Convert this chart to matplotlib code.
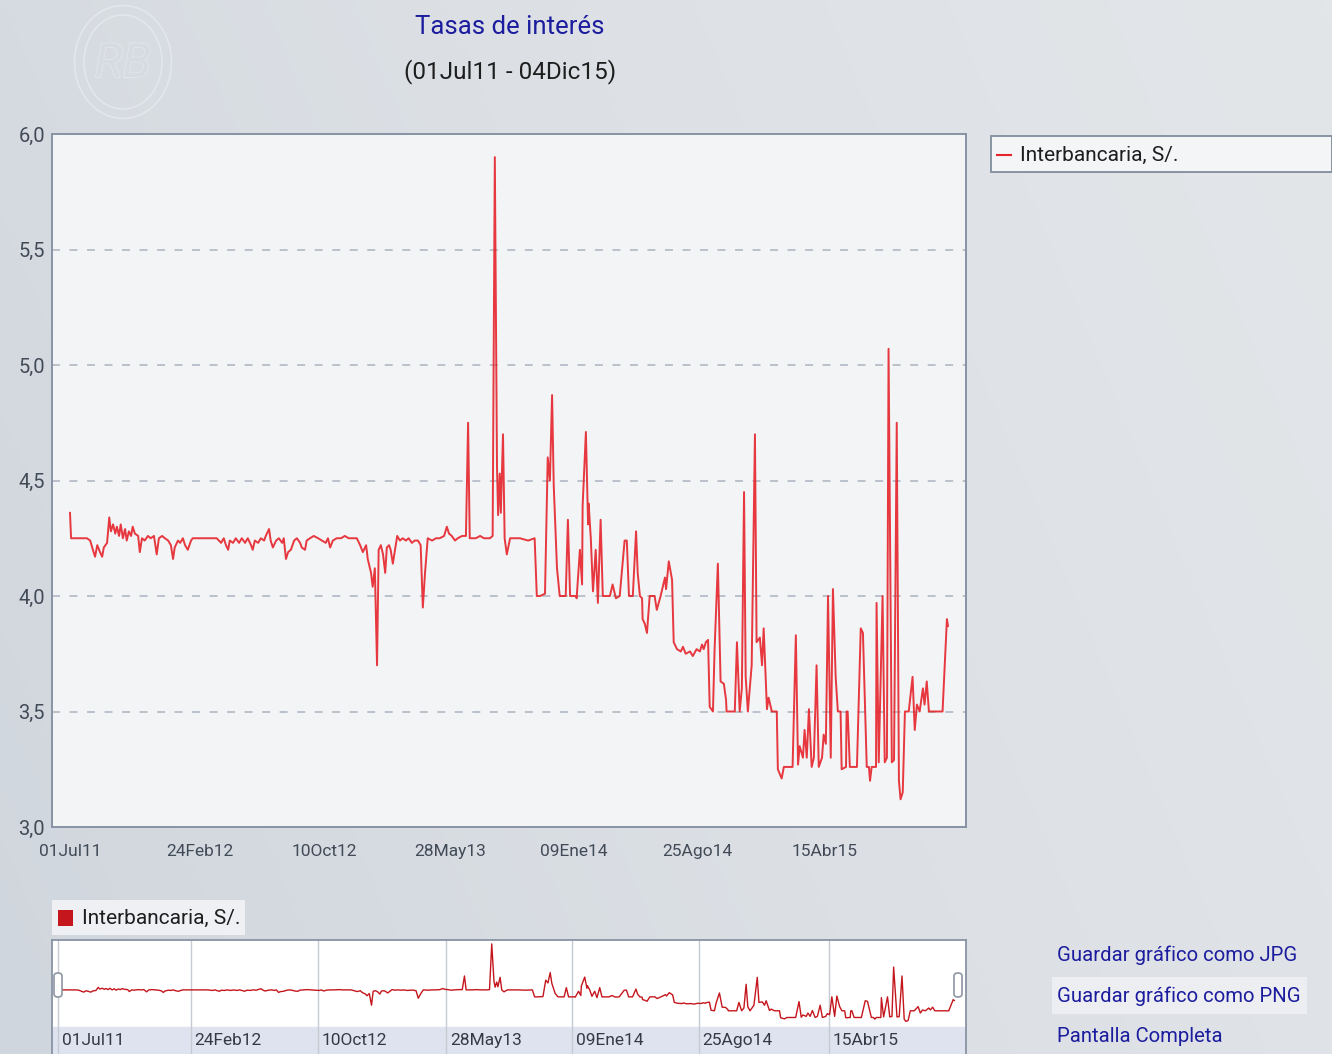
import matplotlib.pyplot as plt
import numpy as np
import pandas as pd
from matplotlib import font_manager, patheffects
from matplotlib.colors import LinearSegmentedColormap
from matplotlib.lines import Line2D
from matplotlib.patches import Ellipse, FancyBboxPatch, Rectangle

W, H = 1332, 1054

# ---------------------------------------------------------------------------
# Datos: tasa interbancaria en soles (% anual)
# ---------------------------------------------------------------------------
fechas_2011 = ["2011-07-01", "2011-07-03", "2011-08-01", "2011-08-07", "2011-08-12", "2011-08-16",
               "2011-08-20", "2011-08-25", "2011-08-29", "2011-09-01", "2011-09-07", "2011-09-11",
               "2011-09-14", "2011-09-18", "2011-09-22", "2011-09-25", "2011-09-29", "2011-10-02",
               "2011-10-06", "2011-10-10", "2011-10-13", "2011-10-17", "2011-10-21", "2011-10-24",
               "2011-10-28", "2011-11-03", "2011-11-06", "2011-11-10", "2011-11-15", "2011-11-21",
               "2011-11-26", "2011-12-02", "2011-12-07", "2011-12-11", "2011-12-17", "2011-12-22",
               "2011-12-28"]
tasas_2011 = [4.36, 4.25, 4.25, 4.24, 4.20, 4.17,
              4.22, 4.19, 4.17, 4.21, 4.23, 4.34,
              4.28, 4.31, 4.27, 4.30, 4.26, 4.31,
              4.25, 4.29, 4.24, 4.28, 4.26, 4.30,
              4.27, 4.26, 4.19, 4.25, 4.24, 4.26,
              4.25, 4.26, 4.18, 4.25, 4.26, 4.25,
              4.24]

fechas_2012 = ["2012-01-02", "2012-01-06", "2012-01-09", "2012-01-15", "2012-01-19", "2012-01-24",
               "2012-01-28", "2012-02-02", "2012-02-08", "2012-02-11", "2012-03-26", "2012-03-30",
               "2012-04-03", "2012-04-08", "2012-04-12", "2012-04-16", "2012-04-19", "2012-04-25",
               "2012-04-30", "2012-05-06", "2012-05-11", "2012-05-17", "2012-05-22", "2012-05-28",
               "2012-05-31", "2012-06-04", "2012-06-10", "2012-06-15", "2012-06-21", "2012-06-24",
               "2012-06-30", "2012-07-03", "2012-07-07", "2012-07-13", "2012-07-18", "2012-07-24",
               "2012-07-27", "2012-07-31", "2012-08-04", "2012-08-09", "2012-08-15", "2012-08-20",
               "2012-08-26", "2012-08-29", "2012-09-04", "2012-09-07", "2012-09-13", "2012-09-20",
               "2012-09-28", "2012-10-05", "2012-10-12", "2012-10-16", "2012-10-20", "2012-10-25",
               "2012-11-01", "2012-11-09", "2012-11-16", "2012-11-23", "2012-12-01", "2012-12-08",
               "2012-12-14", "2012-12-19", "2012-12-25", "2012-12-28"]
tasas_2012 = [4.22, 4.16, 4.21, 4.24, 4.23, 4.25,
              4.22, 4.20, 4.24, 4.25, 4.25, 4.24,
              4.23, 4.25, 4.22, 4.20, 4.24, 4.23,
              4.25, 4.23, 4.25, 4.23, 4.25, 4.22,
              4.20, 4.24, 4.23, 4.25, 4.24, 4.26,
              4.29, 4.24, 4.21, 4.24, 4.25, 4.23,
              4.25, 4.16, 4.19, 4.20, 4.24, 4.25,
              4.23, 4.21, 4.20, 4.24, 4.25, 4.26,
              4.25, 4.24, 4.23, 4.25, 4.21, 4.24,
              4.25, 4.25, 4.26, 4.25, 4.25, 4.25,
              4.22, 4.19, 4.22, 4.16]

fechas_2013 = ["2013-01-03", "2013-01-06", "2013-01-10", "2013-01-14", "2013-01-17", "2013-01-21",
               "2013-01-25", "2013-01-29", "2013-02-01", "2013-02-05", "2013-02-08", "2013-02-12",
               "2013-02-16", "2013-02-20", "2013-02-25", "2013-03-02", "2013-03-08", "2013-03-13",
               "2013-03-19", "2013-03-24", "2013-03-30", "2013-04-04", "2013-04-08", "2013-04-12",
               "2013-04-17", "2013-04-25", "2013-05-02", "2013-05-09", "2013-05-17", "2013-05-22",
               "2013-05-26", "2013-05-31", "2013-06-06", "2013-06-11", "2013-06-19", "2013-06-26",
               "2013-06-30", "2013-07-03", "2013-07-14", "2013-07-22", "2013-07-29", "2013-08-09",
               "2013-08-14", "2013-08-18", "2013-08-22", "2013-08-24", "2013-08-27", "2013-08-29",
               "2013-09-02", "2013-09-05", "2013-09-09", "2013-09-15", "2013-10-03", "2013-10-18",
               "2013-10-30", "2013-11-03", "2013-11-09", "2013-11-18", "2013-11-23", "2013-11-27",
               "2013-12-01", "2013-12-04", "2013-12-10", "2013-12-15", "2013-12-26", "2013-12-30"]
tasas_2013 = [4.10, 4.04, 4.12, 3.70, 4.20, 4.22,
              4.18, 4.10, 4.21, 4.22, 4.20, 4.14,
              4.20, 4.26, 4.24, 4.25, 4.24, 4.25,
              4.23, 4.24, 4.24, 4.22, 3.95, 4.10,
              4.25, 4.24, 4.25, 4.25, 4.26, 4.30,
              4.27, 4.26, 4.24, 4.25, 4.26, 4.26,
              4.75, 4.25, 4.25, 4.26, 4.25, 4.25,
              4.26, 5.90, 4.56, 4.35, 4.53, 4.36,
              4.70, 4.25, 4.18, 4.25, 4.25, 4.24,
              4.25, 4.00, 4.00, 4.01, 4.60, 4.50,
              4.87, 4.48, 4.12, 4.00, 4.00, 4.33]

fechas_2014 = ["2014-01-03", "2014-01-14", "2014-01-15", "2014-01-21", "2014-01-25", "2014-01-26",
               "2014-02-01", "2014-02-05", "2014-02-06", "2014-02-10", "2014-02-14", "2014-02-19",
               "2014-02-23", "2014-02-28", "2014-03-04", "2014-03-17", "2014-03-22", "2014-03-28",
               "2014-04-04", "2014-04-13", "2014-04-17", "2014-04-21", "2014-04-28", "2014-05-04",
               "2014-05-07", "2014-05-11", "2014-05-15", "2014-05-16", "2014-05-20", "2014-05-24",
               "2014-05-29", "2014-06-07", "2014-06-11", "2014-06-18", "2014-06-26", "2014-06-28",
               "2014-07-03", "2014-07-09", "2014-07-12", "2014-07-18", "2014-07-25", "2014-07-29",
               "2014-08-03", "2014-08-11", "2014-08-16", "2014-08-23", "2014-08-29", "2014-09-02",
               "2014-09-05", "2014-09-09", "2014-09-13", "2014-09-16", "2014-09-22", "2014-09-25",
               "2014-10-01", "2014-10-06", "2014-10-12", "2014-10-16", "2014-10-17", "2014-11-01",
               "2014-11-05", "2014-11-10", "2014-11-14", "2014-11-18", "2014-11-21", "2014-11-25",
               "2014-12-02", "2014-12-08", "2014-12-11", "2014-12-17", "2014-12-21", "2014-12-24",
               "2014-12-30"]
tasas_2014 = [4.00, 4.00, 3.99, 4.20, 4.05, 4.39,
              4.71, 4.31, 4.40, 4.25, 4.02, 4.20,
              3.97, 4.33, 4.00, 4.00, 4.05, 3.99,
              4.00, 4.24, 4.24, 4.00, 4.00, 4.28,
              4.10, 4.00, 3.99, 3.90, 3.88, 3.84,
              4.00, 4.00, 3.94, 4.00, 4.08, 4.03,
              4.15, 4.07, 3.80, 3.77, 3.76, 3.78,
              3.75, 3.76, 3.74, 3.77, 3.76, 3.79,
              3.77, 3.80, 3.81, 3.52, 3.50, 3.77,
              4.14, 3.63, 3.62, 3.55, 3.50, 3.50,
              3.80, 3.50, 3.60, 4.45, 3.65, 3.50,
              3.70, 4.70, 3.80, 3.82, 3.70, 3.86,
              3.51]

fechas_2015 = ["2015-01-02", "2015-01-08", "2015-01-17", "2015-01-19", "2015-01-26", "2015-01-30",
               "2015-02-15", "2015-02-21", "2015-02-25", "2015-02-28", "2015-03-06", "2015-03-09",
               "2015-03-13", "2015-03-17", "2015-03-22", "2015-03-26", "2015-03-31", "2015-04-04",
               "2015-04-10", "2015-04-13", "2015-04-17", "2015-04-21", "2015-04-26", "2015-04-30",
               "2015-05-05", "2015-05-09", "2015-05-14", "2015-05-16", "2015-05-24", "2015-05-25",
               "2015-05-27", "2015-05-31", "2015-06-13", "2015-06-20", "2015-06-24", "2015-07-01",
               "2015-07-05", "2015-07-07", "2015-07-10", "2015-07-18", "2015-07-19", "2015-07-23",
               "2015-07-30", "2015-08-03", "2015-08-07", "2015-08-10", "2015-08-16", "2015-08-20",
               "2015-08-25", "2015-08-29", "2015-09-01", "2015-09-05", "2015-09-09", "2015-09-16",
               "2015-09-23", "2015-09-27", "2015-10-01", "2015-10-06", "2015-10-12", "2015-10-15",
               "2015-10-19", "2015-10-23", "2015-11-17", "2015-11-25", "2015-11-27"]
tasas_2015 = [3.56, 3.50, 3.50, 3.25, 3.21, 3.26,
              3.26, 3.83, 3.27, 3.35, 3.30, 3.42,
              3.30, 3.51, 3.26, 3.30, 3.70, 3.26,
              3.30, 3.40, 3.36, 4.00, 3.30, 4.03,
              3.65, 3.50, 3.50, 3.25, 3.26, 3.50,
              3.50, 3.26, 3.26, 3.86, 3.84, 3.26,
              3.26, 3.20, 3.26, 3.26, 3.97, 3.28,
              4.00, 3.28, 3.30, 5.07, 3.28, 3.29,
              4.75, 3.20, 3.12, 3.15, 3.50, 3.50,
              3.65, 3.42, 3.53, 3.50, 3.60, 3.53,
              3.63, 3.50, 3.50, 3.90, 3.87]

tick_fechas = ["2011-07-01", "2012-02-24", "2012-10-10", "2013-05-28",
               "2014-01-09", "2014-08-25", "2015-04-15"]
tick_etiquetas = ["01Jul11", "24Feb12", "10Oct12", "28May13", "09Ene14", "25Ago14", "15Abr15"]
y_ticks = [3.0, 3.5, 4.0, 4.5, 5.0, 5.5, 6.0]

serie = "Interbancaria, S/."
titulo = "Tasas de interés"
periodo = "(01Jul11 - 04Dic15)"
enlaces = ["Guardar gráfico como JPG", "Guardar gráfico como PNG", "Pantalla Completa"]

fechas = pd.to_datetime(fechas_2011 + fechas_2012 + fechas_2013 + fechas_2014 + fechas_2015)
tasas = tasas_2011 + tasas_2012 + tasas_2013 + tasas_2014 + tasas_2015
ticks = pd.to_datetime(tick_fechas)
inicio = ticks[0]

# fuente estrecha parecida a la del original, si esta instalada
disponibles = {f.name for f in font_manager.fontManager.ttflist}
fuente = next((f for f in ["Liberation Sans Narrow", "DejaVu Sans Condensed", "Roboto", "DejaVu Sans"]
               if f in disponibles), "DejaVu Sans")
plt.rcParams["font.family"] = fuente


def caja(x0, y0, x1, y1):
    # rectangulo en pixeles (origen arriba a la izquierda) -> fraccion de figura
    return [x0 / W, 1 - y1 / H, (x1 - x0) / W, (y1 - y0) / H]


def fx(x):
    return x / W


def fy(y):
    return 1 - y / H


fig = plt.figure(figsize=(W / 100, H / 100), dpi=100)

# fondo degradado
fondo = fig.add_axes([0, 0, 1, 1], zorder=-10)
gx, gy = np.meshgrid(np.linspace(0, 1, 300), np.linspace(0, 1, 200))
cmap_fondo = LinearSegmentedColormap.from_list("fondo", ["#d0d6dd", "#dce0e5", "#e3e6e9"])
fondo.imshow(0.75 * gx + 0.25 * gy, cmap=cmap_fondo, aspect="auto", extent=[0, 1, 0, 1], origin="lower")
fondo.axis("off")

# logo tenue
for rx, ry in [(97, 113), (78, 94)]:
    fondo.add_patch(Ellipse((fx(123), fy(62)), rx / W, ry / H, fill=False,
                            edgecolor="#e3e7eb", lw=1.2, transform=fig.transFigure))
fig.text(fx(123), fy(64), "RB", ha="center", va="center", fontsize=34, style="italic",
         color="#d6dbe1", path_effects=[patheffects.withStroke(linewidth=1.2, foreground="#e3e7eb")])

# titulos
fig.text(fx(510), fy(27), titulo, ha="center", va="center", fontsize=18.5, color="#1c1c9e")
fig.text(fx(510), fy(72), periodo, ha="center", va="center", fontsize=17.5, color="#1e1e1e")

# grafico principal
ax = fig.add_axes(caja(52, 134, 966, 827))
ax.set_facecolor("#f2f4f6")
for v in y_ticks[1:-1]:
    ax.axhline(v, color="#b6bdc7", lw=1.3, ls=(0, (4.4, 5.3)), zorder=0)
ax.plot(fechas, tasas, color="#e5232a", lw=1.4, alpha=0.9, zorder=2)
ax.set_ylim(3, 6)
ax.set_xlim(inicio - pd.Timedelta(days=33), inicio + pd.Timedelta(days=1643))
ax.set_yticks(y_ticks)
ax.set_yticklabels([f"{v:.1f}".replace(".", ",") for v in y_ticks])
ax.set_xticks(ticks)
ax.set_xticklabels(tick_etiquetas)
ax.tick_params(length=0, labelcolor="#414a57")
ax.tick_params(axis="y", pad=5, labelsize=14.5)
ax.tick_params(axis="x", pad=12, labelsize=12.5)
for s in ax.spines.values():
    s.set_color("#8793a3")
    s.set_linewidth(1.4)

# leyenda derecha
fig.patches.append(Rectangle((fx(991), fy(172)), (W - 991) / W, 36 / H, transform=fig.transFigure,
                             facecolor="#f4f5f7", edgecolor="#8893a3", lw=1.4))
fig.lines.append(Line2D([fx(997), fx(1011)], [fy(155), fy(155)], transform=fig.transFigure,
                        color="#e5232a", lw=1.5))
fig.text(fx(1020), fy(155), serie, ha="left", va="center", fontsize=15, color="#1e1e1e")

# etiqueta del navegador
fig.patches.append(Rectangle((fx(52), fy(935)), 193 / W, 35 / H, transform=fig.transFigure,
                             facecolor="#eef0f3", edgecolor="none"))
fig.patches.append(Rectangle((fx(58), fy(926)), 15 / W, 16 / H, transform=fig.transFigure,
                             facecolor="#c4161c", edgecolor="none"))
fig.text(fx(82), fy(918), serie, ha="left", va="center", fontsize=15, color="#1e1e1e")

# navegador inferior
nav = fig.add_axes(caja(52, 940, 966, 1054))
nav.set_facecolor("white")
nav.set_xlim(inicio - pd.Timedelta(days=11), inicio + pd.Timedelta(days=1631))
nav.set_ylim(1.95, 6.04)
nav.axhspan(1.95, 2.92, color="#dfe3ef", zorder=0)
for t in ticks:
    nav.axvline(t, color="#c6cbd3", lw=1, zorder=1)
nav.plot(fechas, tasas, color="#c4161c", lw=1.0, zorder=2)
for t, lab in zip(ticks, tick_etiquetas):
    nav.text(t + pd.Timedelta(days=7), 2.42, lab, ha="left", va="center", fontsize=12.5, color="#333a46")
nav.set_xticks([])
nav.set_yticks([])
for s in nav.spines.values():
    s.set_color("#8893a3")
    s.set_linewidth(1.3)
nav.spines["bottom"].set_visible(False)

for xh in [58, 958]:
    fig.patches.append(FancyBboxPatch((fx(xh - 4), fy(997)), 8 / W, 24 / H, transform=fig.transFigure,
                                      boxstyle="round,pad=0,rounding_size=0.003",
                                      facecolor="white", edgecolor="#8d96a3", lw=1.2))

# enlaces
fig.patches.append(Rectangle((fx(1052), fy(1014)), 255 / W, 37 / H, transform=fig.transFigure,
                             facecolor="#eceef1", edgecolor="none"))
for texto, y in zip(enlaces, [955, 996, 1036]):
    fig.text(fx(1057), fy(y), texto, ha="left", va="center", fontsize=14.6, color="#1c1c9e")

fig.savefig("out.png", dpi=100)
